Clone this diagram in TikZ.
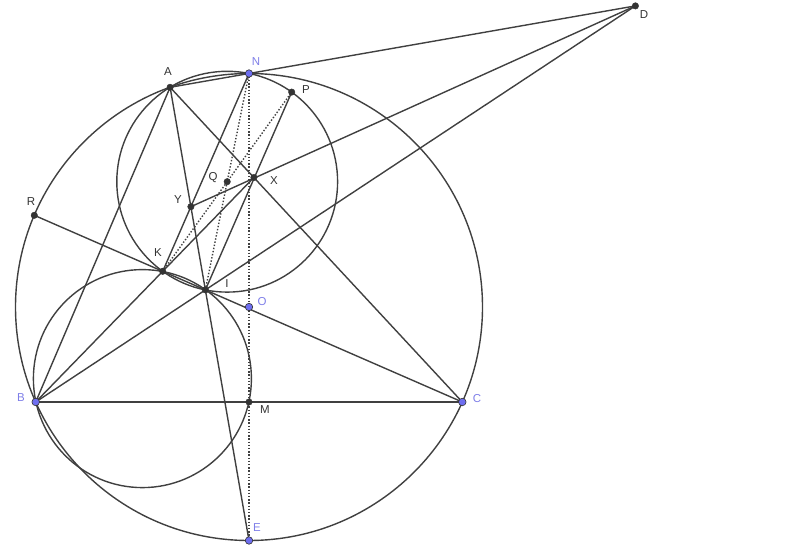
\documentclass[tikz,border=0pt]{standalone}
\usepackage{fontspec}
\setmainfont{Liberation Sans}
\definecolor{ggline}{HTML}{404040}
\definecolor{ggpt}{HTML}{333333}
\definecolor{ggblue}{HTML}{6E6EF0}
\definecolor{gglbl}{HTML}{7E7EE8}
\begin{document}
\begin{tikzpicture}[x=1pt,y=-1pt,
  ln/.style={ggline,line width=1.4pt},
  dt/.style={ggline,line width=1.4pt,dash pattern=on 1.4pt off 1.8pt},
  pt/.style={circle,fill=ggpt,draw=ggpt,inner sep=0pt,minimum size=6.5pt},
  bpt/.style={circle,fill=ggblue,draw=ggpt,line width=0.6pt,inner sep=0pt,minimum size=7.5pt},
  lbl/.style={text=ggpt,font=\fontsize{11.5}{12}\selectfont,inner sep=0pt},
  blbl/.style={lbl,text=gglbl}]
\useasboundingbox (0,0) rectangle (800,557);
%\draw[step=50,gray!30,very thin] (0,0) grid (800,557); %pixel grid
% points (screen coordinates, y downwards)
\coordinate (O) at (249,307);
\coordinate (M) at (249,402);
\coordinate (B) at (35.7,402);
\coordinate (C) at (462.3,402);
\coordinate (N) at (249,73.5);
\coordinate (E) at (249,540.5);
\coordinate (A) at (170.1,87.3);
\coordinate (I) at (205.4,289.9);
\coordinate (Q) at (227.2,181.7);
\coordinate (K) at (162.7,271.3);
\coordinate (R) at (34.3,215.3);
\coordinate (P) at (291.7,92.1);
\coordinate (X) at (253.9,177.5);
\coordinate (D) at (635.4,5.9);
\coordinate (Y) at (190.9,206.7);
\coordinate (S) at (142.4,378.6); %centre of small circle
% circles
\draw[ln] (O) circle[radius=233.5pt]; %circumcircle
\draw[ln] (Q) circle[radius=110.4pt]; %circle on NI
\draw[ln] (S) circle[radius=109pt]; %circle through B,K,I,M
% lines
\draw[ln] (A) -- (D);
\draw[ln] (B) -- (D);
\draw[ln] (Y) -- (D);
\draw[ln] (A) -- (B);
\draw[ln] (A) -- (C);
\draw[ln] (A) -- (E);
\draw[ln] (B) -- (C);
\draw[ln] (B) -- (X);
\draw[ln] (R) -- (C);
\draw[ln] (N) -- (K);
\draw[ln] (I) -- (P);
\draw[dt] (K) -- (P);
\draw[dt] (I) -- (N);
\draw[dt] (N) -- (E);
% dots
\foreach \p in {A,P,Q,X,Y,R,K,I,M,D}
  \node[pt] (d\p) at (\p) {};
\foreach \p in {N,O,B,C,E}
  \node[bpt] (d\p) at (\p) {};
% labels
\node[lbl] (lD) at (644,15) {D};
\node[blbl] (lN) at (256,62) {N};
\node[lbl] (lA) at (168,72) {A};
\node[lbl] (lP) at (306,90) {P};
\node[lbl] (lQ) at (213,178) {Q};
\node[lbl] (lX) at (274,181) {X};
\node[lbl] (lY) at (178,200) {Y};
\node[lbl] (lR) at (31,202) {R};
\node[lbl] (lK) at (158,253) {K};
\node[lbl] (lI) at (227,284) {I};
\node[blbl] (lO) at (262,302) {O};
\node[blbl] (lB) at (21,398) {B};
\node[lbl] (lM) at (265,410) {M};
\node[blbl] (lC) at (477,399) {C};
\node[blbl] (lE) at (257,528) {E};
\end{tikzpicture}
\end{document}
